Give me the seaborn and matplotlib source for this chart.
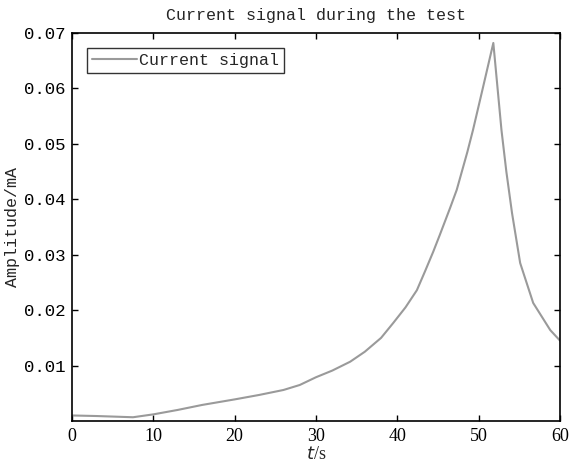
import matplotlib
matplotlib.use("Agg")
import matplotlib.pyplot as plt
import pandas as pd
import seaborn as sns

# values
time_s = [0, 3, 7.5, 10, 13, 16, 20, 23, 26, 28, 30, 32, 34.2, 36, 38, 39.5,
          41, 42.4, 43.4, 44.4, 45.2, 46.5, 47.3, 48.6, 49.3, 50.5, 51.8,
          52.8, 53.4, 54.1, 55.1, 56.7, 58.8, 60]
amplitude = [0.0010, 0.0009, 0.00068, 0.0012, 0.0020, 0.0029, 0.0039, 0.0047,
             0.0056, 0.0065, 0.0079, 0.0091, 0.0107, 0.0125, 0.0150, 0.0177,
             0.0205, 0.0236, 0.0270, 0.0305, 0.0335, 0.0385, 0.0417, 0.0485,
             0.0525, 0.0600, 0.0682, 0.0525, 0.0450, 0.0375, 0.0285, 0.0213,
             0.0164, 0.0145]
x_ticks = [0, 10, 20, 30, 40, 50, 60]
y_ticks = [0.01, 0.02, 0.03, 0.04, 0.05, 0.06, 0.07]
y_labels = ["0.01", "0.02", "0.03", "0.04", "0.05", "0.06", "0.07"]

sns.set_theme(style="white")
plt.rcParams["font.family"] = ["Liberation Mono", "DejaVu Sans Mono"]

df = pd.DataFrame({"t": time_s, "amp": amplitude})

fig = plt.figure(figsize=(5.78, 4.68), dpi=100)
ax = fig.add_axes([0.1246, 0.1004, 0.8443, 0.8291])
sns.lineplot(data=df, x="t", y="amp", color="#9a9a9a", linewidth=1.5,
             label="Current signal", ax=ax)

ax.set_xlim(0, 60)
ax.set_ylim(0, 0.07)
ax.set_xticks(x_ticks)
ax.set_xticklabels([str(v) for v in x_ticks], family="Liberation Serif", fontsize=13)
ax.set_yticks(y_ticks)
ax.set_yticklabels(y_labels, fontsize=12.5)
ax.tick_params(axis="both", which="both", direction="in", length=4, width=1,
               top=True, right=True, bottom=True, left=True, colors="black")
ax.tick_params(axis="y", pad=5)
ax.tick_params(axis="x", pad=5)
for spine in ax.spines.values():
    spine.set_visible(True)
    spine.set_color("black")
    spine.set_linewidth(1.2)

ax.set_title("Current signal during the test", fontsize=12, pad=9)
ax.set_xlabel("$t$/s", family="Liberation Serif", fontsize=13, labelpad=1)
ax.set_ylabel("Amplitude/mA", fontsize=12)
ax.yaxis.set_label_coords(-0.107, 0.5)

leg = ax.legend(loc="upper left", fontsize=12, frameon=True, fancybox=False,
                handlelength=2.7, borderpad=0.3, borderaxespad=0.9,
                handletextpad=0.1)
leg.get_frame().set_edgecolor("black")
leg.get_frame().set_linewidth(1.0)

fig.savefig("out.png", dpi=100)
